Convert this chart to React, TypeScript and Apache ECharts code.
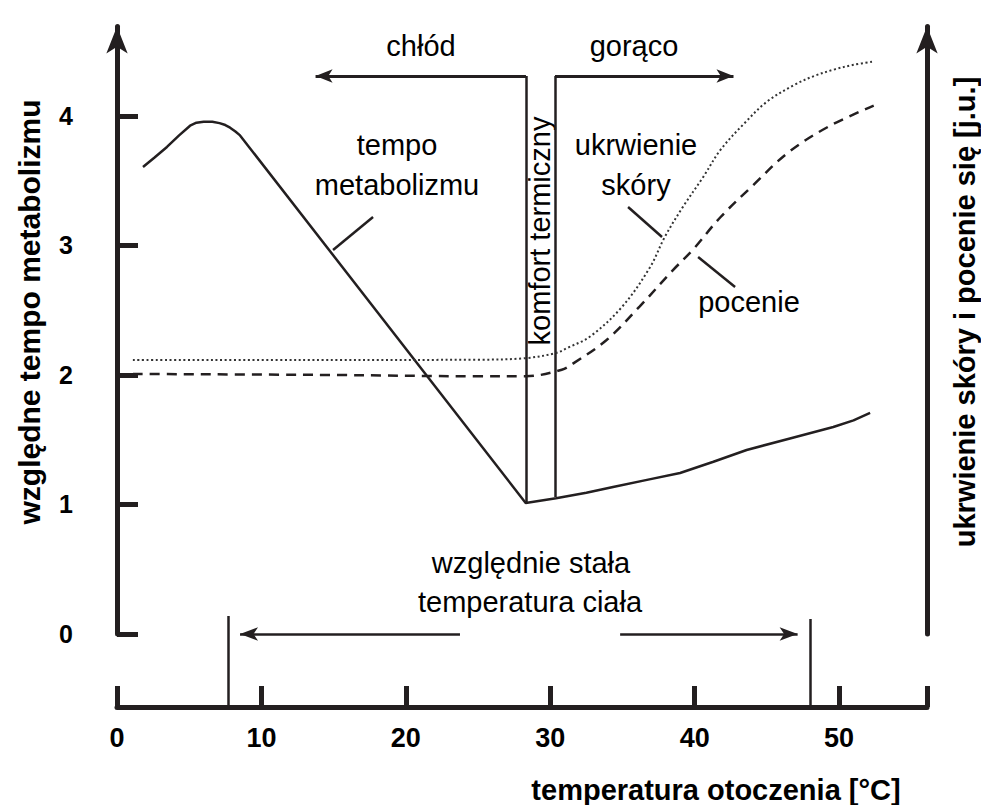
import React, { useEffect, useRef } from 'react';
import * as echarts from 'echarts';

// ---------- data ----------
// temperatura otoczenia [°C]
const metabolismT = [1.8, 2.6, 3.46, 4.3, 5.06, 5.5, 6.0, 6.6, 7.1, 7.5, 7.83, 8.2, 8.52, 28.3, 30.4, 32.5, 34.35, 36.7, 38.99, 41.3, 43.6, 46.6, 49.6, 51.0, 52.15];
const metabolismV = [3.606, 3.68, 3.761, 3.85, 3.925, 3.948, 3.955, 3.955, 3.945, 3.93, 3.91, 3.88, 3.85, 1.012, 1.048, 1.09, 1.135, 1.19, 1.243, 1.33, 1.421, 1.51, 1.598, 1.65, 1.707];

const skinT = [1.1, 15, 25, 28.3, 30.4, 31.2, 32.8, 35.0, 36.9, 37.95, 39.2, 40.6, 41.8, 43.5, 45.0, 46.9, 48.3, 49.7, 51.0, 52.4];
const skinV = [2.116, 2.116, 2.118, 2.13, 2.17, 2.21, 2.30, 2.53, 2.83, 3.07, 3.30, 3.53, 3.74, 3.95, 4.11, 4.24, 4.31, 4.36, 4.395, 4.42];

const sweatT = [1.1, 15, 25, 28.3, 30.8, 31.6, 33.9, 36.2, 38.5, 39.9, 41.8, 44.0, 46.5, 49.3, 52.4];
const sweatV = [2.008, 2.0, 1.99, 1.99, 2.04, 2.09, 2.27, 2.53, 2.81, 2.97, 3.22, 3.46, 3.72, 3.92, 4.08];

const xTickValues = [0, 10, 20, 30, 40, 50];
const yTickValues = [0, 1, 2, 3, 4];

// annotation segments in data units [°C, value]
const coldVertical = [[28.32, 1.012], [28.32, 4.309]];
const hotVertical = [[30.33, 1.058], [30.33, 4.309]];
const coldArrow = [[28.32, 4.309], [13.75, 4.309]];
const hotArrow = [[30.33, 4.309], [42.69, 4.309]];
const stableLeftVertical = [[7.69, 0.139], [7.69, -0.564]];
const stableRightVertical = [[47.99, 0.116], [47.99, -0.564]];
const stableLeftArrow = [[23.75, 0], [8.52, 0]];
const stableRightArrow = [[34.84, 0], [47.13, 0]];
const metabolismLeader = [[14.96, 2.965], [17.73, 3.22]];
const skinLeader = [[35.39, 3.297], [37.74, 3.066]];
const sweatLeader = [[40.24, 2.911], [42.8, 2.68]];

const X_MIN = -2.147;
const X_MAX = 56.09;
const Y_MAX = 4.691;

const INK = '#231f20';
const FONT = '"Liberation Sans", Arial, Helvetica, sans-serif';

const zip = (a: number[], b: number[]) => a.map((x, i) => [x, b[i]]);

function txt(text: string, x: number, y: number, opts: any = {}) {
  return {
    type: 'text',
    x,
    y,
    rotation: opts.rotation || 0,
    silent: true,
    style: {
      text,
      fill: '#000',
      fontSize: opts.fontSize || 29,
      fontWeight: opts.fontWeight || 'normal',
      fontFamily: FONT,
      align: 'center',
      verticalAlign: 'middle',
    },
  };
}

export default function App() {
  const ref = useRef<HTMLDivElement>(null);

  useEffect(() => {
    const chart = echarts.init(ref.current!, null, { renderer: 'svg' });
    const axisLineArrow = {
      show: true,
      symbol: ['none', 'arrow'],
      symbolSize: [16, 27],
      lineStyle: { color: INK, width: 5 },
    };
    const annotationLines = {
      type: 'lines',
      coordinateSystem: 'cartesian2d',
      xAxisIndex: 0,
      yAxisIndex: 0,
      clip: false,
      silent: true,
      polyline: false,
      lineStyle: { color: INK, width: 2.5, opacity: 1, curveness: 0 },
    };
    chart.setOption({
      animation: false,
      textStyle: { fontFamily: FONT },
      grid: [
        { left: 86, top: 26.5, width: 841, height: 607.5 },
        { left: 117, top: 706, width: 810, height: 1 },
      ],
      xAxis: [
        { gridIndex: 0, type: 'value', min: X_MIN, max: X_MAX, show: false },
        {
          gridIndex: 1,
          type: 'value',
          min: 0,
          max: X_MAX,
          position: 'bottom',
          axisLine: { show: true, lineStyle: { color: INK, width: 5 } },
          axisTick: {
            show: true,
            inside: true,
            length: 21,
            lineStyle: { color: INK, width: 5 },
            customValues: [...xTickValues, X_MAX],
          },
          axisLabel: {
            customValues: xTickValues,
            fontSize: 27,
            fontWeight: 'bold',
            color: '#000',
            margin: 17,
          },
          splitLine: { show: false },
        },
      ],
      yAxis: [
        {
          gridIndex: 0,
          type: 'value',
          min: 0,
          max: Y_MAX,
          position: 'left',
          axisLine: axisLineArrow,
          axisTick: {
            show: true,
            inside: true,
            length: 21,
            lineStyle: { color: INK, width: 5 },
            customValues: yTickValues,
          },
          axisLabel: {
            customValues: yTickValues,
            fontSize: 25,
            fontWeight: 'bold',
            color: '#000',
            margin: 13,
          },
          splitLine: { show: false },
        },
        {
          gridIndex: 0,
          type: 'value',
          min: 0,
          max: Y_MAX,
          position: 'right',
          axisLine: axisLineArrow,
          axisTick: { show: false },
          axisLabel: { show: false },
          splitLine: { show: false },
        },
        { gridIndex: 1, type: 'value', show: false },
      ],
      series: [
        {
          type: 'line',
          name: 'tempo metabolizmu',
          xAxisIndex: 0,
          yAxisIndex: 0,
          data: zip(metabolismT, metabolismV),
          symbol: 'none',
          smooth: false,
          lineStyle: { color: INK, width: 2.5 },
        },
        {
          type: 'line',
          name: 'ukrwienie skóry',
          xAxisIndex: 0,
          yAxisIndex: 0,
          data: zip(skinT, skinV),
          symbol: 'none',
          smooth: 0.35,
          lineStyle: { color: '#333', width: 2, type: [2, 2.6] },
        },
        {
          type: 'line',
          name: 'pocenie',
          xAxisIndex: 0,
          yAxisIndex: 0,
          data: zip(sweatT, sweatV),
          symbol: 'none',
          smooth: 0.35,
          lineStyle: { color: INK, width: 2.5, type: [10, 7] },
        },
        {
          ...annotationLines,
          symbol: 'none',
          data: [
            coldVertical,
            hotVertical,
            stableLeftVertical,
            stableRightVertical,
            metabolismLeader,
            skinLeader,
            sweatLeader,
          ].map((c) => ({ coords: c })),
        },
        {
          ...annotationLines,
          symbol: ['none', 'arrow'],
          symbolSize: [[10, 17], [10, 17]],
          lineStyle: { color: INK, width: 3, opacity: 1, curveness: 0 },
          data: [coldArrow, hotArrow].map((c) => ({ coords: c })),
        },
        {
          ...annotationLines,
          symbol: ['none', 'arrow'],
          symbolSize: [[10, 18], [10, 18]],
          lineStyle: { color: INK, width: 2.5, opacity: 1, curveness: 0 },
          data: [stableLeftArrow, stableRightArrow].map((c) => ({ coords: c })),
        },
      ],
      graphic: [
        txt('względne tempo metabolizmu', 29, 312, { rotation: Math.PI / 2, fontWeight: 'bold', fontSize: 30 }),
        txt('ukrwienie skóry i pocenie się [j.u.]', 965, 312, { rotation: Math.PI / 2, fontWeight: 'bold' }),
        txt('temperatura otoczenia [°C]', 716, 790, { fontWeight: 'bold' }),
        txt('chłód', 421, 46),
        txt('gorąco', 634, 46),
        txt('tempo', 397, 145),
        txt('metabolizmu', 397, 185),
        txt('komfort termiczny', 540, 231, { rotation: Math.PI / 2 }),
        txt('ukrwienie', 636, 145),
        txt('skóry', 636, 185),
        txt('pocenie', 749, 302),
        txt('względnie stała', 531, 563),
        txt('temperatura ciała', 530, 602),
      ],
    });
    return () => chart.dispose();
  }, []);

  return (
    <div
      ref={ref}
      style={{ position: 'fixed', left: 0, top: 0, width: 981, height: 805, background: '#fff' }}
    />
  );
}
